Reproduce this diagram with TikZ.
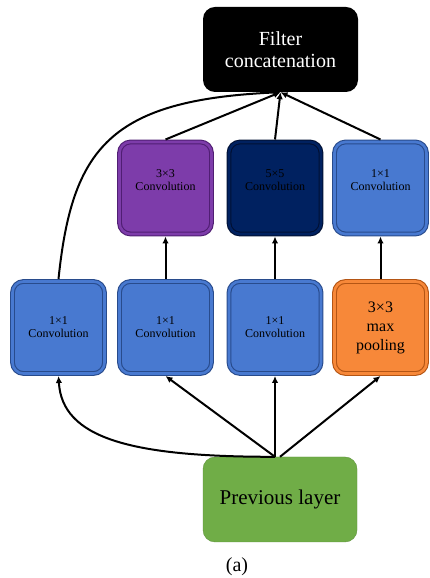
\documentclass[tikz,border=0pt]{standalone}
\usepackage{fontspec}
\setmainfont{Liberation Serif}
\usetikzlibrary{arrows.meta}

\definecolor{bleuconv}{RGB}{72,121,208}
\definecolor{bleubord}{RGB}{40,75,140}
\definecolor{violetconv}{RGB}{125,60,170}
\definecolor{violetbord}{RGB}{80,30,115}
\definecolor{marineconv}{RGB}{0,33,96}
\definecolor{marinebord}{RGB}{0,16,52}
\definecolor{orangepool}{RGB}{247,136,57}
\definecolor{orangebord}{RGB}{180,85,20}
\definecolor{vertprev}{RGB}{112,173,71}

\begin{document}
\begin{tikzpicture}[x=1pt,y=1pt,
  bloc/.style={rounded corners=11pt, minimum width=92pt, minimum height=92pt,
    align=center, font=\fontsize{12}{13}\selectfont, line width=1.1pt,
    double distance=2.6pt, outer sep=2.5pt},
  haut/.style={bloc, text depth=16pt},
  fleche/.style={-{Latex[length=7pt,width=6.5pt]}, line width=2pt}]
  \useasboundingbox (0,0) rectangle (429,578);

  % Entrée et sortie
  \node[fill=black, text=white, rounded corners=12pt, minimum width=155pt,
    minimum height=85pt, align=center, font=\fontsize{20}{22}\selectfont]
    (concat) at (280.5,528.5) {Filter\\concatenation};
  \node[fill=vertprev, draw=vertprev!85!black, rounded corners=12pt,
    minimum width=154pt, minimum height=85pt, font=\fontsize{21}{23}\selectfont]
    (prev) at (280,78.5) {Previous layer};

  % Rangée du bas
  \node[bloc, fill=bleuconv, draw=bleubord, double=bleuconv] (c1a) at (58.5,250.5) {1×1\\Convolution};
  \node[bloc, fill=bleuconv, draw=bleubord, double=bleuconv] (c2a) at (165.5,250.5) {1×1\\Convolution};
  \node[bloc, fill=bleuconv, draw=bleubord, double=bleuconv] (c3a) at (275,250.5) {1×1\\Convolution};
  \node[bloc, fill=orangepool, draw=orangebord, double=orangepool,
    font=\fontsize{16}{19}\selectfont] (c4a) at (380.5,250.5) {3×3\\max\\pooling};

  % Rangée du haut
  \node[haut, fill=violetconv, draw=violetbord, double=violetconv] (c2b) at (165.5,390) {3×3\\Convolution};
  \node[haut, fill=marineconv, draw=marinebord, double=marineconv] (c3b) at (275,390) {5×5\\Convolution};
  \node[haut, fill=bleuconv, draw=bleubord, double=bleuconv] (c4b) at (380.5,390) {1×1\\Convolution};

  % Flèches depuis la couche précédente
  \coordinate (depart) at (prev.north -| c3a);
  \draw[fleche] (depart) .. controls (130,121) and (62,140) .. (c1a.south);
  \draw[fleche] (depart) -- (c2a.south);
  \draw[fleche] (depart) -- (c3a.south);
  \draw[fleche] (prev.north) -- (c4a.south);

  % Flèches entre les rangées
  \draw[fleche] (c2a) -- (c2b);
  \draw[fleche] (c3a) -- (c3b);
  \draw[fleche] (c4a) -- (c4b);

  % Flèches vers la concaténation
  \draw[fleche] (c1a.north) .. controls (72,430) and (110,478) .. (concat.south);
  \draw[fleche] (c2b.north) -- (concat.south);
  \draw[fleche] (c3b.north) -- (concat.south);
  \draw[fleche] (c4b.north) -- (concat.south);

  % Légende
  \node[font=\fontsize{20}{22}\selectfont] (legende) at (237,11) {(a)};
\end{tikzpicture}
\end{document}
